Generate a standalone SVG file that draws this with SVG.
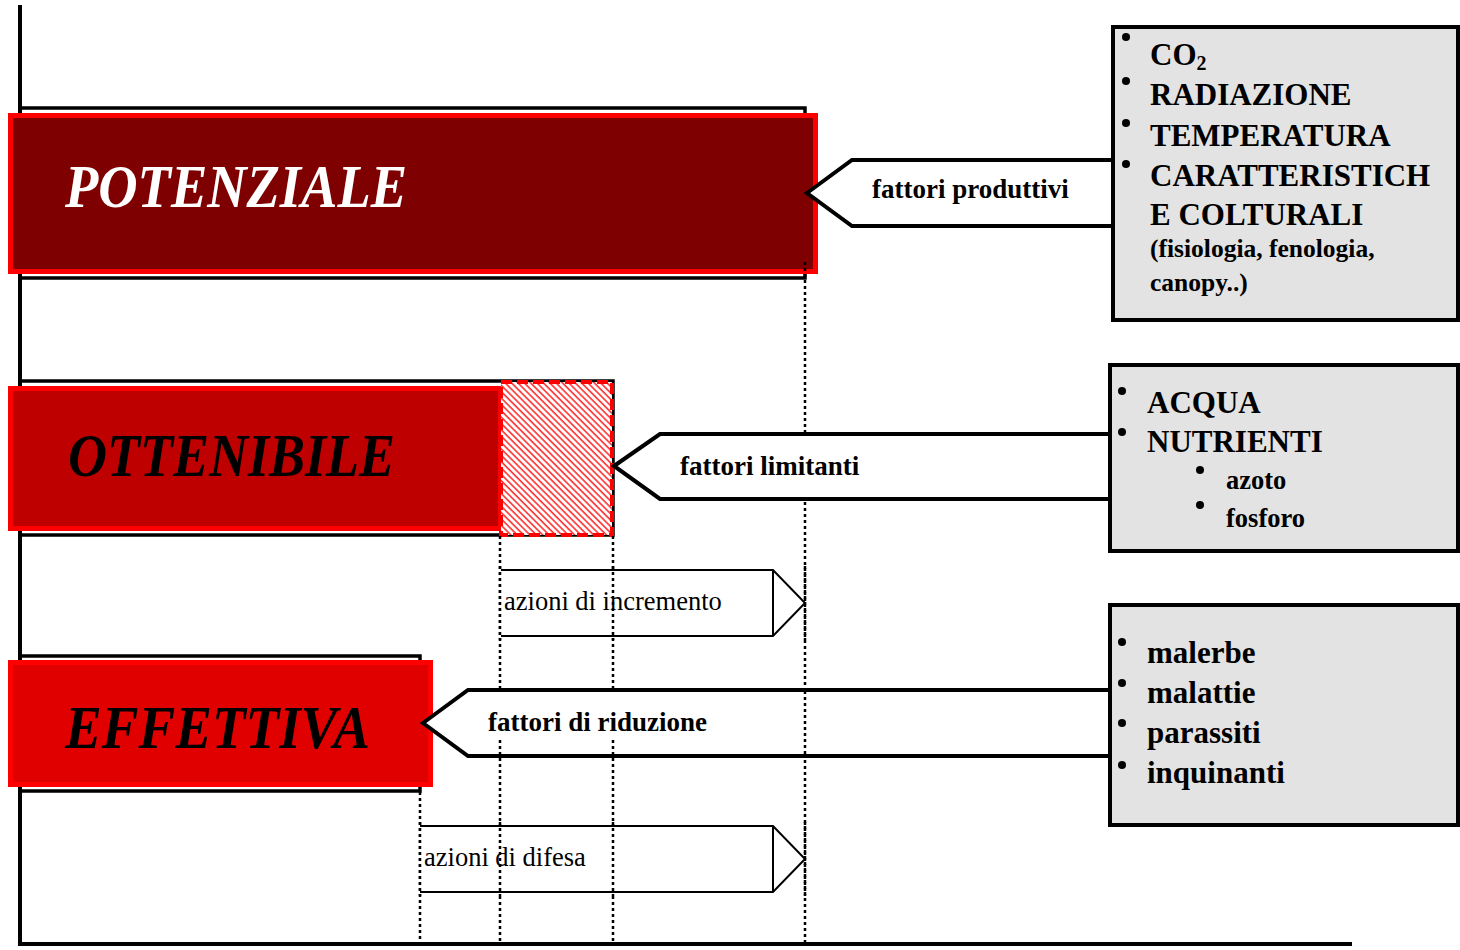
<svg xmlns="http://www.w3.org/2000/svg" width="1460" height="950" viewBox="0 0 1460 950">
<style>
.axis{stroke:#000;stroke-width:4;fill:none}
.shadow{fill:none;stroke:#000;stroke-width:3.5}
.lvl{stroke:#ff0000;stroke-width:5}
.title{font-family:"Liberation Serif","Times New Roman",serif;font-weight:bold;font-style:italic;font-size:62px}
.call{fill:#fff;stroke:#000;stroke-width:4;stroke-linejoin:miter}
.act{fill:#fff;stroke:#000;stroke-width:2}
.dot{stroke:#000;stroke-width:2.5;stroke-dasharray:3 3;fill:none}
.box{fill:#e3e3e3;stroke:#000;stroke-width:4}
.b{font-family:"Liberation Serif","Times New Roman",serif;font-weight:bold;fill:#000}
.r{font-family:"Liberation Serif","Times New Roman",serif;fill:#000;font-size:26.5px}
.bul{fill:#000}
</style>
<defs>
<pattern id="hatch" patternUnits="userSpaceOnUse" width="4.5" height="4.5" patternTransform="rotate(-45)">
<rect width="4.5" height="4.5" fill="#fff"/>
<line x1="1" y1="0" x2="1" y2="4.5" stroke="#ff3030" stroke-width="1.6"/>
</pattern>
</defs>
<rect width="1460" height="950" fill="#fff"/>

<g id="axes">
<line class="axis" x1="20" y1="5" x2="20" y2="946"/>
<line class="axis" x1="18" y1="944" x2="1352" y2="944"/>
</g>

<g id="potenziale">
<rect class="shadow" x="20" y="108" width="785" height="170"/>
<rect class="lvl" x="10.5" y="115.5" width="805" height="156" fill="#7f0000"/>
<text class="title" x="65" y="207" fill="#fff" textLength="342" lengthAdjust="spacingAndGlyphs">POTENZIALE</text>
</g>

<g id="ottenibile">
<rect class="shadow" x="20" y="381" width="593" height="154"/>
<rect class="lvl" x="10.5" y="388.5" width="490" height="140" fill="#bf0000"/>
<text class="title" x="68" y="476" fill="#000" textLength="327" lengthAdjust="spacingAndGlyphs">OTTENIBILE</text>
</g>

<g id="gap">
<rect x="501" y="382" width="111" height="153" fill="url(#hatch)" stroke="#ff0000" stroke-width="4" stroke-dasharray="11 5"/>
</g>

<g id="effettiva">
<rect class="shadow" x="20" y="656" width="400" height="135"/>
<rect class="lvl" x="10.5" y="662.5" width="420" height="122" fill="#e00000"/>
<text class="title" x="65" y="748" fill="#000" textLength="305" lengthAdjust="spacingAndGlyphs">EFFETTIVA</text>
</g>

<g id="connectors">
<line class="dot" x1="805" y1="262" x2="805" y2="942"/>
<line class="dot" x1="500" y1="536" x2="500" y2="942"/>
<line class="dot" x1="613" y1="536" x2="613" y2="942"/>
<line class="dot" x1="420" y1="792" x2="420" y2="942"/>

<g id="produttivi">
<polygon class="call" points="807,193 852,160 1113,160 1113,226 852,226"/>
<text class="b" x="872" y="198" font-size="27">fattori produttivi</text>
</g>
<g id="limitanti">
<polygon class="call" points="614,466 660,434 1110,434 1110,499 660,499"/>
<text class="b" x="680" y="475" font-size="27">fattori limitanti</text>
</g>
<g id="riduzione">
<polygon class="call" points="423,723 468,690 1110,690 1110,756 468,756"/>
<text class="b" x="488" y="731" font-size="27">fattori di riduzione</text>
<line class="dot" x1="500" y1="740" x2="500" y2="756"/>
<line class="dot" x1="613" y1="740" x2="613" y2="756"/>
<line class="dot" x1="805" y1="691" x2="805" y2="756"/>
</g>
<g id="incremento">
<path class="act" d="M501,570 L773,570 L805,603 L773,636 L501,636 M773,570 L773,636"/>
<text class="r" x="504" y="610">azioni di incremento</text>
</g>
<g id="difesa">
<path class="act" d="M420,826 L773,826 L805,859 L773,892 L420,892 M773,826 L773,892"/>
<text class="r" x="424" y="866">azioni di difesa</text>
</g>
<line class="dot" x1="805" y1="566" x2="805" y2="640"/>
<line class="dot" x1="613" y1="566" x2="613" y2="640"/>
<line class="dot" x1="500" y1="566" x2="500" y2="640"/>
<line class="dot" x1="420" y1="822" x2="420" y2="896"/>
<line class="dot" x1="500" y1="822" x2="500" y2="896"/>
<line class="dot" x1="613" y1="822" x2="613" y2="896"/>
<line class="dot" x1="805" y1="822" x2="805" y2="896"/>
</g>

<g id="box-produttivi">
<rect class="box" x="1113" y="27" width="345" height="293"/>
<circle class="bul" cx="1126" cy="37" r="4"/>
<circle class="bul" cx="1126" cy="81" r="4"/>
<circle class="bul" cx="1126" cy="123" r="4"/>
<circle class="bul" cx="1126" cy="164" r="4"/>
<text class="b" font-size="31"><tspan x="1150" y="65">CO<tspan font-size="20" dy="5">2</tspan></tspan></text>
<text class="b" font-size="31" x="1150" y="105">RADIAZIONE</text>
<text class="b" font-size="31" x="1150" y="146">TEMPERATURA</text>
<text class="b" font-size="31" x="1150" y="186">CARATTERISTICH</text>
<text class="b" font-size="31" x="1150" y="225">E COLTURALI</text>
<text class="b" font-size="25.5" x="1150" y="257">(fisiologia, fenologia,</text>
<text class="b" font-size="25.5" x="1150" y="291">canopy..)</text>
</g>

<g id="box-limitanti">
<rect class="box" x="1110" y="365" width="348" height="186"/>
<circle class="bul" cx="1122" cy="391" r="4"/>
<circle class="bul" cx="1122" cy="432" r="4"/>
<circle class="bul" cx="1200" cy="470" r="4"/>
<circle class="bul" cx="1200" cy="505" r="4"/>
<text class="b" font-size="31" x="1147" y="413">ACQUA</text>
<text class="b" font-size="31" x="1147" y="452">NUTRIENTI</text>
<text class="b" font-size="26.5" x="1226" y="489">azoto</text>
<text class="b" font-size="26.5" x="1226" y="527">fosforo</text>
</g>

<g id="box-riduzione">
<rect class="box" x="1110" y="605" width="348" height="220"/>
<circle class="bul" cx="1122" cy="642" r="4"/>
<circle class="bul" cx="1122" cy="683" r="4"/>
<circle class="bul" cx="1122" cy="723" r="4"/>
<circle class="bul" cx="1122" cy="765" r="4"/>
<text class="b" font-size="31" x="1147" y="663">malerbe</text>
<text class="b" font-size="31" x="1147" y="703">malattie</text>
<text class="b" font-size="31" x="1147" y="743">parassiti</text>
<text class="b" font-size="31" x="1147" y="783">inquinanti</text>
</g>
</svg>
